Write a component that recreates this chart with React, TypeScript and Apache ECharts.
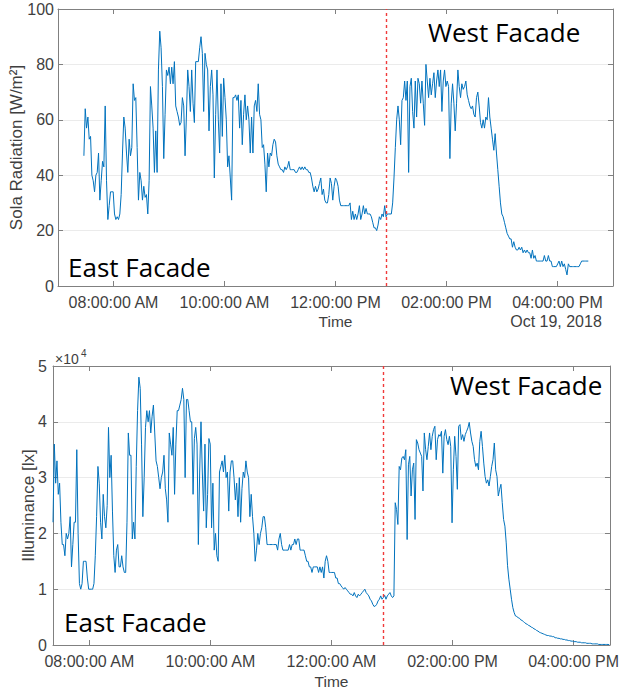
import React, { useEffect, useRef } from "react";
import * as echarts from "echarts";

// ---------- time axis (minutes after midnight) ----------
const tickMinutes = [480, 600, 720, 840, 960];
const topTickLabels = ["08:00:00 AM", "10:00:00 AM", "12:00:00 PM", "02:00:00 PM", "04:00:00 PM"];
const bottomTickLabels = ["08:00:00 AM", "10:00:00 AM", "12:00:00 AM", "02:00:00 PM", "04:00:00 PM"];
const dateLabel = "Oct 19, 2018";

// sensor sampling clock
const topStartMinute = 448; // 07:28
const topStepMinutes = 1.4388;
const bottomStartMinute = 444; // 07:24
const bottomStepMinutes = 1.3096;

// east -> west facade switch
const dividerTopMinute = 775;
const dividerBottomMinute = 771;

// ---------- solar radiation [W/m2] ----------
const radiationValues = [
  47, 64, 57, 61, 53, 54, 40, 38, 34, 40,
  41, 48, 31, 38, 45, 43, 65, 38, 24, 29,
  34, 34, 34, 26, 24, 25, 24, 26, 33, 48,
  61, 57, 48, 41, 53, 47, 50, 73, 67, 68,
  50, 31, 41, 38, 31, 36, 32, 33, 26, 38,
  72, 65, 57, 41, 56, 41, 78, 92, 86, 72,
  46, 62, 78, 76, 79, 73, 79, 73, 81, 65,
  63, 61, 58, 59, 68, 65, 47, 61, 78, 72,
  63, 78, 66, 59,
  81, 81, 81, 86, 90, 84, 63, 84, 80, 78,
  56, 72, 78, 69, 39, 62, 78, 60, 48, 73,
  54, 75, 68, 60, 43, 47, 39, 31, 68, 68,
  69, 67, 69, 57, 67, 51, 62, 69, 60, 65,
  60, 48, 61, 48, 65, 67, 63, 73, 62, 60,
  50, 51, 44, 34, 48, 43, 48, 47, 51, 53,
  52, 47, 44, 43, 42, 42, 41, 43, 42, 43,
  45, 42, 42, 42, 42, 41, 41, 42, 43, 42,
  43, 42, 43, 42, 42, 41, 41, 39, 36, 34,
  36, 34, 35, 37, 39, 33, 35, 31, 30, 30,
  33, 39, 37, 31, 36, 39, 38, 36, 31, 29,
  29, 29, 29, 29, 29, 29, 30, 24, 27, 24,
  26, 24, 26, 29, 24, 26, 29, 26, 28, 26,
  26, 26, 25, 23, 21, 21, 20, 22, 25, 24,
  26, 25, 29, 25, 26, 26, 26, 26, 30, 39,
  50, 60, 65, 60, 51, 67, 68, 74, 67, 74,
  41, 72, 75, 63, 57, 74, 61, 75, 73, 66,
  74, 66, 58, 80, 74, 68, 75, 69, 73, 77,
  68, 74, 78, 72, 78, 63, 74, 78, 72, 74,
  72, 46, 66, 73, 66, 56, 66, 78, 72, 68,
  73, 71, 72, 74, 69, 67, 65, 64, 65, 62,
  61, 68, 70, 65, 59, 57, 60, 57, 61, 60,
  68, 61, 57, 53, 49, 55, 48, 42, 36, 30,
  26, 25, 23, 21, 19, 18, 17, 17, 14, 16,
  14, 13, 13, 14, 13, 14, 12, 13, 12, 13,
  12, 12, 10, 13, 10, 11, 9, 9, 9, 9,
  9, 9, 11, 9, 9, 11, 9, 9, 7, 7,
  7, 7, 8, 9, 7, 9, 7, 8, 6, 4,
  8, 7, 7, 7, 7, 7, 7, 7, 7, 8,
  9, 9, 9, 9, 9, 9,
];

// ---------- illuminance [x10^4 lx] ----------
const illuminanceValues = [
  2.2, 3.6, 2.9, 3.3, 2.7, 2.9, 2.2, 1.8, 1.8, 1.6,
  2.0, 1.9, 2.0, 2.3, 1.4, 1.8, 2.2, 2.2, 3.5, 2.0,
  1.1, 1.0, 1.1, 1.5, 1.5, 1.5, 1.2, 1.0, 1.0, 1.0,
  1.0, 1.1, 1.6, 2.3, 3.2, 2.9, 2.2, 1.9, 2.7, 2.3,
  2.1, 2.5, 3.9, 3.0, 3.4, 2.4, 1.6, 1.3, 1.7, 1.8,
  1.4, 1.4, 1.6, 1.4, 1.3, 1.3, 2.2, 3.8, 3.4, 3.4,
  1.9, 2.2, 1.9, 3.2, 4.2, 4.8, 4.6, 3.6, 2.3, 3.0,
  3.9, 4.2, 4.0, 4.2, 3.8, 4.1, 4.3, 3.8, 3.3, 3.2,
  3.0, 2.8, 3.0, 3.1, 3.4, 2.8, 2.6, 2.2, 3.8, 3.6,
  3.4, 3.9, 2.7, 3.6, 4.2, 4.2, 4.3, 4.4, 4.6, 4.4,
  3.0, 4.4, 4.4, 4.2, 4.0, 4.0, 2.7, 3.7, 3.9, 3.6,
  1.8, 3.1, 4.0, 3.1, 2.4, 3.6, 2.1, 2.7, 3.7, 3.6,
  2.1, 2.9, 1.7, 2.0, 1.6, 1.5, 3.1, 3.2, 3.3, 3.1,
  3.4, 3.0, 3.1, 2.4, 3.1, 3.3, 3.3, 3.0, 2.6, 2.9,
  2.3, 3.0, 2.2, 2.8, 3.1, 3.0, 3.3, 3.1, 3.0, 2.3,
  2.7, 2.3, 2.0, 1.5, 1.7, 2.0, 1.8, 2.0, 2.1, 2.3,
  2.3, 2.1, 1.8, 1.8, 1.8, 1.8, 1.8, 1.8, 1.8, 1.8,
  1.7, 1.9, 2.0, 1.8, 1.7, 1.7, 1.7, 1.7, 1.7, 1.8,
  1.7, 1.8, 1.8, 1.9, 1.8, 1.9, 1.9, 1.7, 1.7, 1.7,
  1.7, 1.6, 1.5, 1.5, 1.4, 1.4, 1.3, 1.4, 1.4, 1.4,
  1.4, 1.3, 1.4, 1.3, 1.4, 1.2, 1.5, 1.6, 1.5, 1.3,
  1.3, 1.3, 1.3, 1.3, 1.2, 1.2, 1.1, 1.1, 1.06, 1.03,
  1.0, 1.03, 1.0, 0.97, 0.94, 0.91, 0.91, 0.88, 0.94, 0.88,
  0.85, 0.91, 0.88, 0.91, 0.94, 0.97, 1.0, 0.94, 0.91, 0.88,
  0.82, 0.79, 0.73, 0.69, 0.7, 0.73, 0.79, 0.82, 0.88, 0.82,
  0.85, 0.89, 0.82, 0.88, 0.91, 0.94, 0.88, 0.85, 0.88, 2.55,
  2.43, 2.16, 3.2, 3.14, 3.35, 3.38, 3.32, 3.5, 1.89, 3.23,
  3.38, 2.67, 3.14, 3.26, 2.25, 3.68, 3.62, 3.5, 3.44, 3.38,
  2.76, 3.8, 3.5, 3.32, 3.56, 3.8, 3.5, 3.74, 3.86, 3.92,
  3.32, 3.68, 3.77, 3.74, 3.83, 3.08, 3.74, 3.86, 3.68, 3.59,
  3.74, 3.56, 2.19, 3.14, 3.74, 3.38, 2.79, 3.92, 3.95, 3.68,
  3.77, 3.65, 3.77, 3.83, 3.89, 3.99, 3.8, 3.65, 3.56, 3.32,
  3.2, 3.26, 3.14, 3.65, 3.83, 3.56, 3.26, 3.02, 2.9, 2.96,
  2.85, 3.02, 3.2, 3.32, 3.62, 3.14, 3.02, 2.67, 2.79, 2.88,
  2.55, 2.25, 2.13, 1.83, 1.42, 1.18, 1.0, 0.82, 0.67, 0.58,
  0.52, 0.51, 0.49, 0.48, 0.45, 0.44, 0.42, 0.4, 0.38, 0.37,
  0.35, 0.34, 0.32, 0.31, 0.29, 0.28, 0.26, 0.25, 0.23, 0.22,
  0.21, 0.2, 0.19, 0.18, 0.17, 0.17, 0.16, 0.16, 0.15, 0.15,
  0.13, 0.13, 0.12, 0.12, 0.11, 0.11, 0.1, 0.1, 0.09, 0.09,
  0.08, 0.08, 0.07, 0.07, 0.06, 0.06, 0.06, 0.05, 0.05, 0.05,
  0.04, 0.04, 0.04, 0.04, 0.03, 0.03, 0.03, 0.03, 0.02, 0.02,
  0.02, 0.02, 0.02, 0.01, 0.01, 0.01, 0.01, 0.01, 0.01, 0.01,
  0.01, 0.005,
];

const annotations = ["East Facade", "West Facade"];

const AXIS = "#808080";
const LABEL = "#3f3f3f";
const GRID = "#ebebeb";
const LINE = "#0072BD";
const FONT = "'Liberation Sans', Arial, Helvetica, sans-serif";
const ANNO_FONT = "'Open Sans', 'Noto Sans', sans-serif";

function buildOption() {
  const topData = radiationValues.map((v, i) => [topStartMinute + i * topStepMinutes, v]);
  const bottomData = illuminanceValues.map((v, i) => [bottomStartMinute + i * bottomStepMinutes, v]);

  const tickCommon = {
    show: true,
    inside: true,
    length: 5,
    customValues: tickMinutes,
    lineStyle: { color: AXIS, width: 1 },
  };
  const axisLine = { show: true, onZero: false, lineStyle: { color: AXIS, width: 1 } };
  const labelText = { color: LABEL, fontSize: 16, fontFamily: FONT };

  const xAxisFor = (gridIndex: number, min: number, max: number, labels: string[], nameGap: number) => [
    {
      gridIndex,
      type: "value",
      min,
      max,
      position: "bottom",
      axisLine,
      axisTick: tickCommon,
      axisLabel: {
        ...labelText,
        margin: 8,
        customValues: tickMinutes,
        formatter: (v: number) => {
          const k = tickMinutes.indexOf(Math.round(v));
          return k >= 0 ? labels[k] : "";
        },
      },
      splitLine: { show: false },
      name: "Time",
      nameLocation: "middle",
      nameGap,
      nameMoveOverlap: false,
      nameTextStyle: { color: LABEL, fontSize: 15.5, fontFamily: FONT },
    },
    {
      gridIndex,
      type: "value",
      min,
      max,
      position: "top",
      axisLine,
      axisTick: tickCommon,
      axisLabel: { show: false },
      splitLine: { show: false },
    },
  ];

  const yAxisFor = (
    gridIndex: number,
    max: number,
    interval: number,
    name: string,
    nameGap: number,
    labelMargin: number
  ) => [
    {
      gridIndex,
      type: "value",
      min: 0,
      max,
      interval,
      position: "left",
      axisLine,
      axisTick: { show: true, inside: true, length: 5, lineStyle: { color: AXIS } },
      axisLabel: { ...labelText, margin: labelMargin },
      splitLine: { show: true, lineStyle: { color: GRID, width: 1 } },
      name,
      nameLocation: "middle",
      nameGap,
      nameMoveOverlap: false,
      nameTextStyle: { color: LABEL, fontSize: 17, fontFamily: FONT },
    },
    {
      gridIndex,
      type: "value",
      min: 0,
      max,
      interval,
      position: "right",
      axisLine,
      axisTick: { show: true, inside: true, length: 5, lineStyle: { color: AXIS } },
      axisLabel: { show: false },
      splitLine: { show: false },
    },
  ];

  const divider = (minute: number) => ({
    silent: true,
    symbol: "none",
    label: { show: false },
    lineStyle: { color: "#f03a3a", type: [3, 3], width: 1.4 },
    data: [{ xAxis: minute }],
  });

  const annoText = (text: string, x: number, y: number) => ({
    type: "text",
    x,
    y,
    silent: true,
    style: {
      text,
      fill: "#000",
      fontSize: 26,
      fontFamily: ANNO_FONT,
      textAlign: "left",
      textVerticalAlign: "middle",
    },
  });

  return {
    animation: false,
    backgroundColor: "#ffffff",
    grid: [
      { left: 57, top: 9, width: 556, height: 277 },
      { left: 53, top: 366, width: 562, height: 279 },
    ],
    xAxis: [
      ...xAxisFor(0, 420, 1020, topTickLabels, 27),
      ...xAxisFor(1, bottomStartMinute, 996, bottomTickLabels, 28),
    ],
    yAxis: [
      ...yAxisFor(0, 100, 20, "Sola Radiation [W/m²]", 33, 4),
      ...yAxisFor(1, 5, 1, "Illuminance [lx]", 16, 6),
    ],
    series: [
      {
        type: "line",
        xAxisIndex: 0,
        yAxisIndex: 0,
        data: topData,
        showSymbol: false,
        symbol: "none",
        lineStyle: { color: LINE, width: 1 },
        markLine: divider(dividerTopMinute),
      },
      {
        type: "line",
        xAxisIndex: 2,
        yAxisIndex: 2,
        data: bottomData,
        showSymbol: false,
        symbol: "none",
        lineStyle: { color: LINE, width: 1 },
        markLine: divider(dividerBottomMinute),
      },
    ],
    graphic: [
      annoText(annotations[0], 68, 267),
      annoText(annotations[1], 428, 32),
      annoText(annotations[0], 64, 622),
      annoText(annotations[1], 450, 385),
      {
        type: "text",
        x: 556,
        y: 321,
        silent: true,
        style: {
          text: dateLabel,
          fill: LABEL,
          fontSize: 16,
          fontFamily: FONT,
          textAlign: "center",
          textVerticalAlign: "middle",
        },
      },
      {
        type: "text",
        x: 55,
        y: 359,
        silent: true,
        style: {
          text: "×10",
          fill: LABEL,
          fontSize: 14,
          fontFamily: FONT,
          textAlign: "left",
          textVerticalAlign: "middle",
        },
      },
      {
        type: "text",
        x: 81,
        y: 353,
        silent: true,
        style: {
          text: "4",
          fill: LABEL,
          fontSize: 10,
          fontFamily: FONT,
          textAlign: "left",
          textVerticalAlign: "middle",
        },
      },
    ],
  };
}

export default function App() {
  const ref = useRef<HTMLDivElement>(null);
  useEffect(() => {
    document.body.style.margin = "0";
    const chart = echarts.init(ref.current as HTMLDivElement, null, { renderer: "svg" });
    chart.setOption(buildOption() as any);
    return () => chart.dispose();
  }, []);
  return <div ref={ref} style={{ width: 622, height: 694, background: "#fff" }} />;
}
